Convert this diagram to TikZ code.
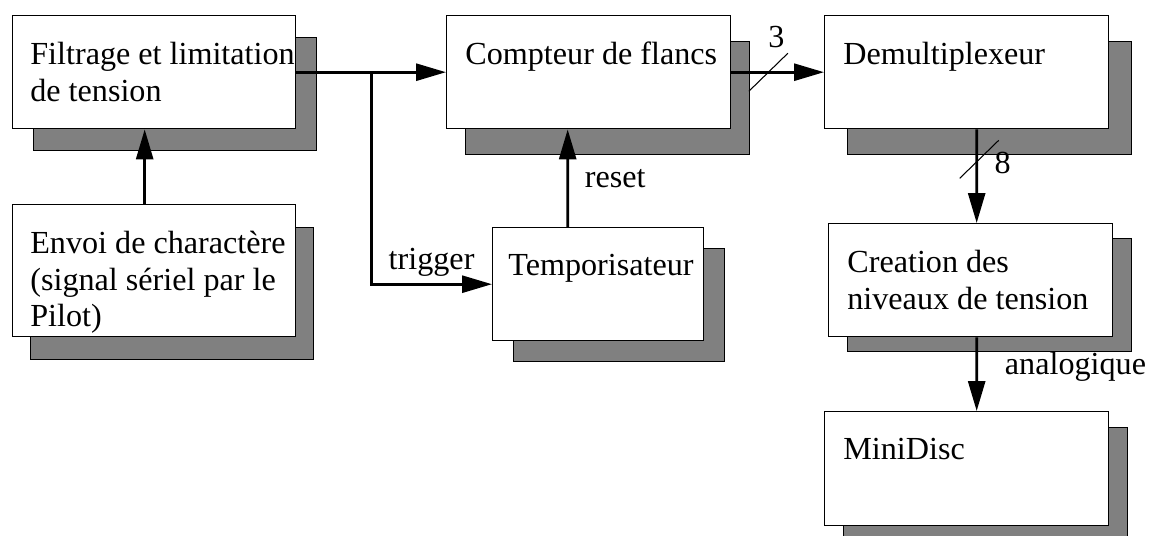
\documentclass[tikz,border=0pt]{standalone}
\usepackage{fontspec}
\setmainfont{Liberation Serif}
\usepackage{tikz}
\usetikzlibrary{positioning, arrows.meta, calc, shadows}
\definecolor{ink}{HTML}{000000}
\definecolor{shadegray}{HTML}{808080}

\begin{document}
\begin{tikzpicture}[x=0.02cm, y=-0.02cm, font=\fontsize{18.3pt}{20.8pt}\selectfont,
  blk/.style={draw=ink, line width=0.8pt, fill=white, anchor=north west, inner sep=0pt, minimum width=5.68cm, minimum height=2.26cm},
  shd/.style 2 args={copy shadow={shadow xshift=#1cm, shadow yshift=-#2cm, fill=shadegray, draw=ink, line width=0.8pt}},
  txt/.style={anchor=north west, inner sep=0pt, align=left},
  arr/.style={-{Triangle[length=0.6cm, width=0.34cm]}, line width=1.6pt, ink},
  bus/.style={line width=0.6pt, ink}
]
  \useasboundingbox (0,0) rectangle (1149,535);

  \node[blk, shd={0.42}{0.44}, minimum width=5.66cm] (filt) at (12,15) {};
  \node[blk, shd={0.38}{0.52}] (comp) at (446,15) {};
  \node[blk, shd={0.46}{0.52}] (demux) at (824,15) {};
  \node[blk, shd={0.36}{0.46}, minimum width=5.66cm, minimum height=2.64cm] (envoi) at (12,204) {};
  \node[blk, shd={0.42}{0.42}, minimum width=4.22cm] (tempo) at (492,227) {};
  \node[blk, shd={0.38}{0.30}] (create) at (828,223) {};
  \node[blk, shd={0.38}{0.32}, minimum height=2.28cm] (mini) at (824,411) {};

  \node[txt] (filt-t) at ([shift={(18,27)}]filt.north west) {Filtrage et limitation\\de tension};
  \node[txt] (comp-t) at ([shift={(19,27)}]comp.north west) {Compteur de flancs};
  \node[txt] (demux-t) at ([shift={(19,27)}]demux.north west) {Demultiplexeur};
  \node[txt] (envoi-t) at ([shift={(18,27)}]envoi.north west) {Envoi de charactère\\(signal sériel par le\\Pilot)};
  \node[txt] (tempo-t) at ([shift={(16,27)}]tempo.north west) {Temporisateur};
  \node[txt] (create-t) at ([shift={(19,27)}]create.north west) {Creation des\\niveaux de tension};
  \node[txt] (mini-t) at ([shift={(19,27)}]mini.north west) {MiniDisc};

  \draw[arr] (filt.east) -- coordinate (tap) (comp.west);
  \draw[arr] (tap) |- node[pos=0.75, above] (trig) {trigger} (tempo.west);
  \draw[arr] ([xshift=-0.19cm]envoi.north) -- ([xshift=-0.19cm]filt.south);
  \draw[arr] ([xshift=-0.61cm]tempo.north) -- node[right=0.2cm] (rst) {reset} ([xshift=-0.42cm]comp.south);

  \draw[arr] (comp.east) -- coordinate[pos=0.4] (bus3) (demux.west);
  \draw[bus] ([shift={(-19.5,19)}]bus3) -- ([shift={(19.5,-19)}]bus3);
  \node (n3) at ([shift={(8,-35)}]bus3) {3};

  \draw[arr] ([xshift=0.2cm]demux.south) -- coordinate[pos=0.32] (bus8) ([xshift=0.12cm]create.north);
  \draw[bus] ([shift={(-17,19)}]bus8) -- ([shift={(22,-19)}]bus8);
  \node (n8) at ([shift={(26,4)}]bus8) {8};

  \draw[arr] ([xshift=0.12cm]create.south) -- node[pos=0.4, right=0.42cm] (ana) {analogique} ([xshift=0.2cm]mini.north);
\end{tikzpicture}
\end{document}
